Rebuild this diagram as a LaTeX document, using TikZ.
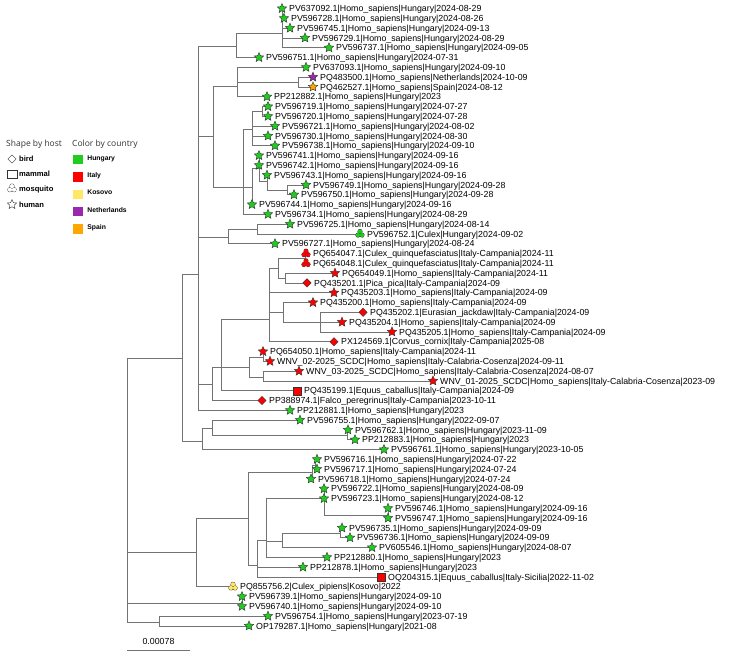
\documentclass[tikz,border=0pt]{standalone}
\usepackage{fontspec}
\setmainfont{Liberation Sans}
\newfontfamily\headfont{Open Sans}
\usetikzlibrary{positioning,shapes.geometric}

\definecolor{hucol}{RGB}{30,205,30}
\definecolor{itcol}{RGB}{255,0,0}
\definecolor{kscol}{RGB}{255,232,100}
\definecolor{nlcol}{RGB}{155,39,175}
\definecolor{escol}{RGB}{255,166,0}

\pgfdeclarelayer{back}
\pgfsetlayers{back,main}

\tikzset{%
    every marker/.style={
      draw=black!80,
      line width=0.4pt,
      inner sep=0pt
    },
    human/.style={every marker, star, star points=5, star point ratio=2.2, minimum size=10pt, fill=#1},
    bird/.style={every marker, diamond, minimum size=8.5pt, fill=#1},
    mammal/.style={every marker, rectangle, minimum size=8pt, fill=#1},
    mosquito/.style={
      circle, inner sep=0pt, minimum size=11pt,
      path picture={
        \foreach \a in {90,210,330}
          \draw [black!80, line width=0.8pt] ([shift={(\a:2.4pt)}]path picture bounding box.center) circle (2.1pt);
        \foreach \a in {90,210,330}
          \fill [#1] ([shift={(\a:2.4pt)}]path picture bounding box.center) circle (2.1pt);
      }
    },
    leaf label/.style={
      inner sep=0pt,
      text height=6.3pt,
      text depth=0pt,
      font=\fontsize{8.8}{10}\selectfont
    },
    legend head/.style={inner sep=0pt, anchor=west, text=black!80, font=\headfont\fontsize{8.5}{10}\selectfont},
    legend item/.style={inner sep=0pt, text height=5.5pt, text depth=0pt, font=\fontsize{7.6}{9}\selectfont\bfseries},
    country/.style={inner sep=0pt, text height=5pt, text depth=0pt, font=\fontsize{6.8}{8}\selectfont\bfseries},
    swatch/.style={rectangle, inner sep=0pt, minimum width=10pt, minimum height=9.5pt, fill=#1},
    branch/.style={draw=black!55, line width=0.8pt}
}

% marker node plus its label, on row #3 of the tree
\newcommand{\addtip}[5]{%
  \node [#4] (#1) at (#2, {8.5+9.8*(#3-1)}) {};
  \node [leaf label, right=7pt of #1.center] (#1-t) {#5};
}

\begin{document}
\begin{tikzpicture}[x=1pt, y=-1pt]
  \useasboundingbox (0,0) rectangle (737,653);

  % legend
  \node [legend head] (hosthead) at (6,144) {Shape by host};
  \node [bird=white] (keybird) at (12,159) {};
  \node [legend item, right=7pt of keybird.center] (keybird-t) {bird};
  \node [mammal=white, minimum width=10pt, minimum height=8pt] (keymammal) at (12,174) {};
  \node [legend item, right=7pt of keymammal.center] (keymammal-t) {mammal};
  \node [mosquito=white] (keymosquito) at (12,188.5) {};
  \node [legend item, right=7pt of keymosquito.center] (keymosquito-t) {mosquito};
  \node [human=white] (keyhuman) at (12,204.5) {};
  \node [legend item, right=7pt of keyhuman.center] (keyhuman-t) {human};

  \node [legend head] (countryhead) at (72,144) {Color by country};
  \node [swatch=hucol] (keyhu) at (78,159.5) {};
  \node [country, right=4pt of keyhu.east, yshift=2pt] (keyhu-t) {Hungary};
  \node [swatch=itcol] (keyit) at (78,177) {};
  \node [country, right=4pt of keyit.east, yshift=2pt] (keyit-t) {Italy};
  \node [swatch=kscol] (keyks) at (78,194.3) {};
  \node [country, right=4pt of keyks.east, yshift=2pt] (keyks-t) {Kosovo};
  \node [swatch=nlcol] (keynl) at (78,211.7) {};
  \node [country, right=4pt of keynl.east, yshift=2pt] (keynl-t) {Netherlands};
  \node [swatch=escol] (keyes) at (78,229) {};
  \node [country, right=4pt of keyes.east, yshift=2pt] (keyes-t) {Spain};

  % tips
  \addtip{pv637092}{282}{1}{human=hucol}{PV637092.1|Homo\_sapiens|Hungary|2024-08-29}
  \addtip{pv596728}{284}{2}{human=hucol}{PV596728.1|Homo\_sapiens|Hungary|2024-08-26}
  \addtip{pv596745}{290}{3}{human=hucol}{PV596745.1|Homo\_sapiens|Hungary|2024-09-13}
  \addtip{pv596729}{305}{4}{human=hucol}{PV596729.1|Homo\_sapiens|Hungary|2024-08-29}
  \addtip{pv596737}{329}{5}{human=hucol}{PV596737.1|Homo\_sapiens|Hungary|2024-09-05}
  \addtip{pv596751}{259}{6}{human=hucol}{PV596751.1|Homo\_sapiens|Hungary|2024-07-31}
  \addtip{pv637093}{306}{7}{human=hucol}{PV637093.1|Homo\_sapiens|Hungary|2024-09-10}
  \addtip{pq483500}{313}{8}{human=nlcol}{PQ483500.1|Homo\_sapiens|Netherlands|2024-10-09}
  \addtip{pq462527}{313}{9}{human=escol}{PQ462527.1|Homo\_sapiens|Spain|2024-08-12}
  \addtip{pp212882}{267}{10}{human=hucol}{PP212882.1|Homo\_sapiens|Hungary|2023}
  \addtip{pv596719}{268}{11}{human=hucol}{PV596719.1|Homo\_sapiens|Hungary|2024-07-27}
  \addtip{pv596720}{268}{12}{human=hucol}{PV596720.1|Homo\_sapiens|Hungary|2024-07-28}
  \addtip{pv596721}{275}{13}{human=hucol}{PV596721.1|Homo\_sapiens|Hungary|2024-08-02}
  \addtip{pv596730}{268}{14}{human=hucol}{PV596730.1|Homo\_sapiens|Hungary|2024-08-30}
  \addtip{pv596738}{275}{15}{human=hucol}{PV596738.1|Homo\_sapiens|Hungary|2024-09-10}
  \addtip{pv596741}{259}{16}{human=hucol}{PV596741.1|Homo\_sapiens|Hungary|2024-09-16}
  \addtip{pv596742}{259}{17}{human=hucol}{PV596742.1|Homo\_sapiens|Hungary|2024-09-16}
  \addtip{pv596743}{267}{18}{human=hucol}{PV596743.1|Homo\_sapiens|Hungary|2024-09-16}
  \addtip{pv596749}{306}{19}{human=hucol}{PV596749.1|Homo\_sapiens|Hungary|2024-09-28}
  \addtip{pv596750}{294}{20}{human=hucol}{PV596750.1|Homo\_sapiens|Hungary|2024-09-28}
  \addtip{pv596744}{252}{21}{human=hucol}{PV596744.1|Homo\_sapiens|Hungary|2024-09-16}
  \addtip{pv596734}{268}{22}{human=hucol}{PV596734.1|Homo\_sapiens|Hungary|2024-08-29}
  \addtip{pv596725}{290}{23}{human=hucol}{PV596725.1|Homo\_sapiens|Hungary|2024-08-14}
  \addtip{pv596752}{360}{24}{mosquito=hucol}{PV596752.1|Culex|Hungary|2024-09-02}
  \addtip{pv596727}{275}{25}{human=hucol}{PV596727.1|Homo\_sapiens|Hungary|2024-08-24}
  \addtip{pq654047}{306}{26}{mosquito=itcol}{PQ654047.1|Culex\_quinquefasciatus|Italy-Campania|2024-11}
  \addtip{pq654048}{306}{27}{mosquito=itcol}{PQ654048.1|Culex\_quinquefasciatus|Italy-Campania|2024-11}
  \addtip{pq654049}{335}{28}{human=itcol}{PQ654049.1|Homo\_sapiens|Italy-Campania|2024-11}
  \addtip{pq435201}{307}{29}{bird=itcol}{PQ435201.1|Pica\_pica|Italy-Campania|2024-09}
  \addtip{pq435203}{334}{30}{human=itcol}{PQ435203.1|Homo\_sapiens|Italy-Campania|2024-09}
  \addtip{pq435200}{313}{31}{human=itcol}{PQ435200.1|Homo\_sapiens|Italy-Campania|2024-09}
  \addtip{pq435202}{363}{32}{bird=itcol}{PQ435202.1|Eurasian\_jackdaw|Italy-Campania|2024-09}
  \addtip{pq435204}{342}{33}{human=itcol}{PQ435204.1|Homo\_sapiens|Italy-Campania|2024-09}
  \addtip{pq435205}{392}{34}{human=itcol}{PQ435205.1|Homo\_sapiens|Italy-Campania|2024-09}
  \addtip{px124569}{334}{35}{bird=itcol}{PX124569.1|Corvus\_cornix|Italy-Campania|2025-08}
  \addtip{pq654050}{263}{36}{human=itcol}{PQ654050.1|Homo\_sapiens|Italy-Campania|2024-11}
  \addtip{wnv02}{270}{37}{human=itcol}{WNV\_02-2025\_SCDC|Homo\_sapiens|Italy-Calabria-Cosenza|2024-09-11}
  \addtip{wnv03}{299}{38}{human=itcol}{WNV\_03-2025\_SCDC|Homo\_sapiens|Italy-Calabria-Cosenza|2024-08-07}
  \addtip{wnv01}{433}{39}{human=itcol}{WNV\_01-2025\_SCDC|Homo\_sapiens|Italy-Calabria-Cosenza|2023-09}
  \addtip{pq435199}{297}{40}{mammal=itcol}{PQ435199.1|Equus\_caballus|Italy-Campania|2024-09}
  \addtip{pp388974}{262}{41}{bird=itcol}{PP388974.1|Falco\_peregrinus|Italy-Campania|2023-10-11}
  \addtip{pp212881}{290}{42}{human=hucol}{PP212881.1|Homo\_sapiens|Hungary|2023}
  \addtip{pv596755}{300}{43}{human=hucol}{PV596755.1|Homo\_sapiens|Hungary|2022-09-07}
  \addtip{pv596762}{348}{44}{human=hucol}{PV596762.1|Homo\_sapiens|Hungary|2023-11-09}
  \addtip{pp212883}{355}{45}{human=hucol}{PP212883.1|Homo\_sapiens|Hungary|2023}
  \addtip{pv596761}{384}{46}{human=hucol}{PV596761.1|Homo\_sapiens|Hungary|2023-10-05}
  \addtip{pv596716}{317}{47}{human=hucol}{PV596716.1|Homo\_sapiens|Hungary|2024-07-22}
  \addtip{pv596717}{317}{48}{human=hucol}{PV596717.1|Homo\_sapiens|Hungary|2024-07-24}
  \addtip{pv596718}{311}{49}{human=hucol}{PV596718.1|Homo\_sapiens|Hungary|2024-07-24}
  \addtip{pv596722}{324}{50}{human=hucol}{PV596722.1|Homo\_sapiens|Hungary|2024-08-09}
  \addtip{pv596723}{324}{51}{human=hucol}{PV596723.1|Homo\_sapiens|Hungary|2024-08-12}
  \addtip{pv596746}{388}{52}{human=hucol}{PV596746.1|Homo\_sapiens|Hungary|2024-09-16}
  \addtip{pv596747}{388}{53}{human=hucol}{PV596747.1|Homo\_sapiens|Hungary|2024-09-16}
  \addtip{pv596735}{342}{54}{human=hucol}{PV596735.1|Homo\_sapiens|Hungary|2024-09-09}
  \addtip{pv596736}{350}{55}{human=hucol}{PV596736.1|Homo\_sapiens|Hungary|2024-09-09}
  \addtip{pv605546}{372}{56}{human=hucol}{PV605546.1|Homo\_sapiens|Hungary|2024-08-07}
  \addtip{pp212880}{327}{57}{human=hucol}{PP212880.1|Homo\_sapiens|Hungary|2023}
  \addtip{pp212878}{303}{58}{human=hucol}{PP212878.1|Homo\_sapiens|Hungary|2023}
  \addtip{oq204315}{381}{59}{mammal=itcol}{OQ204315.1|Equus\_caballus|Italy-Sicilia|2022-11-02}
  \addtip{pq855756}{233}{60}{mosquito=kscol}{PQ855756.2|Culex\_pipiens|Kosovo|2022}
  \addtip{pv596739}{242}{61}{human=hucol}{PV596739.1|Homo\_sapiens|Hungary|2024-09-10}
  \addtip{pv596740}{242}{62}{human=hucol}{PV596740.1|Homo\_sapiens|Hungary|2024-09-10}
  \addtip{pv596754}{268}{63}{human=hucol}{PV596754.1|Homo\_sapiens|Hungary|2023-07-19}
  \addtip{op179287}{249}{64}{human=hucol}{OP179287.1|Homo\_sapiens|Hungary|2021-08}

  % internal nodes
  \coordinate (root) at (127,490);
  \coordinate (n1) at (182,358);
  \coordinate (n2) at (198,274);
  \coordinate (n3) at (202,441);
  \coordinate (n4) at (212,428);
  \coordinate (n5) at (237,86);
  \coordinate (n6) at (213,136);
  \coordinate (n7) at (243,187);
  \coordinate (n8) at (252,129);
  \coordinate (n9) at (262,111);
  \coordinate (n10) at (252,187);
  \coordinate (n11) at (259,168);
  \coordinate (n12) at (267,181);
  \coordinate (n13) at (287,190);
  \coordinate (n14) at (298,82);
  \coordinate (n15) at (236,46);
  \coordinate (n16) at (282,33);
  \coordinate (n17) at (228,237);
  \coordinate (n18) at (347,435);
  \coordinate (n20) at (320,322);
  \coordinate (n21) at (269,319);
  \coordinate (n22) at (278,268);
  \coordinate (n23) at (283,312);
  \coordinate (n24) at (305,258);
  \coordinate (n25) at (285,278);
  \coordinate (n26) at (263,357);
  \coordinate (n27) at (263,377);
  \coordinate (n28) at (249,367);
  \coordinate (n29) at (221,367);
  \coordinate (n31) at (212,384);
  \coordinate (n32) at (257,229);
  \coordinate (n33) at (196,552);
  \coordinate (n34) at (159,622);
  \coordinate (n35) at (248,518);
  \coordinate (n36) at (312,472);
  \coordinate (n37) at (315,465);
  \coordinate (n38) at (324,498);
  \coordinate (n39) at (388,515);
  \coordinate (n40) at (257,565);
  \coordinate (n41) at (266,540);
  \coordinate (n43) at (282,541);
  \coordinate (n44) at (340,533);
  \coordinate (n45) at (242,603);

  % branches
  \begin{pgfonlayer}{back}
  \foreach \p/\c in {root/n1, root/n33, root/n45, root/n34,
      n1/n2, n1/n3,
      n2/n15, n2/n6, n2/n17, n2/n31, n2/pp212881,
      n15/n16, n15/pv596751,
      n16/pv637092, n16/pv596728, n16/pv596745, n16/pv596729, n16/pv596737,
      n6/n5, n6/n7,
      n5/pv637093, n5/n14, n5/pp212882,
      n14/pq483500, n14/pq462527,
      n7/n8, n7/n10, n7/pv596734,
      n8/n9, n8/pv596721, n8/pv596730, n8/pv596738,
      n9/pv596719, n9/pv596720,
      n10/n11, n10/pv596744,
      n11/pv596741, n11/pv596742, n11/n12,
      n12/pv596743, n12/n13,
      n13/pv596749, n13/pv596750,
      n17/n32, n17/pv596727,
      n32/pv596725, n32/pv596752,
      n31/n29, n31/pp388974,
      n29/n21, n29/n28, n29/pq435199,
      n21/n22, n21/pq435203, n21/n23, n21/px124569,
      n22/n24, n22/n25,
      n24/pq654047, n24/pq654048,
      n25/pq654049, n25/pq435201,
      n23/pq435200, n23/n20,
      n20/pq435202, n20/pq435204, n20/pq435205,
      n28/n26, n28/n27,
      n26/pq654050, n26/wnv02,
      n27/wnv03, n27/wnv01,
      n3/n4, n3/pv596761,
      n4/pv596755, n4/n18,
      n18/pv596762, n18/pp212883,
      n33/n35, n33/pq855756,
      n35/n36, n35/n40,
      n36/n37, n36/pv596718,
      n37/pv596716, n37/pv596717,
      n40/n41, n40/pp212878, n40/oq204315,
      n41/n38, n41/n43, n41/pp212880,
      n38/pv596722, n38/pv596723, n38/n39,
      n39/pv596746, n39/pv596747,
      n43/n44, n43/pv605546,
      n44/pv596735, n44/pv596736,
      n45/pv596739, n45/pv596740,
      n34/pv596754, n34/op179287}
    \draw [branch] (\p) |- (\c.center);
  \end{pgfonlayer}

  % scale bar
  \coordinate (bar0) at (127,650);
  \coordinate (bar1) at (190,650);
  \draw [branch] (bar0) -- (bar1);
  \node [leaf label] (bartext) at (158.5,641) {0.00078};
\end{tikzpicture}
\end{document}
